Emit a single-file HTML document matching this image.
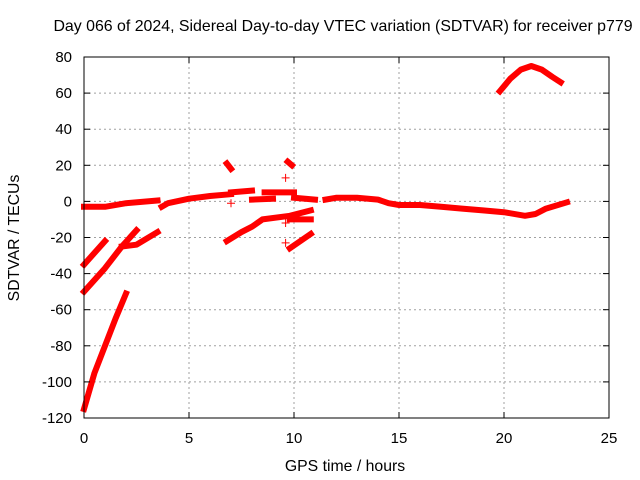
<!DOCTYPE html>
<html><head><meta charset="utf-8"><style>
body{margin:0;background:#fff}
svg{display:block;font-family:"Liberation Sans",sans-serif}
</style></head><body>
<svg id="chart" width="640" height="480">
<text x="343" y="31" font-size="15.9" text-anchor="middle">Day 066 of 2024, Sidereal Day-to-day VTEC variation (SDTVAR) for receiver p779</text>
<text x="345" y="471" font-size="15.8" text-anchor="middle">GPS time / hours</text>
<text transform="translate(19,238) rotate(-90)" font-size="15.8" text-anchor="middle">SDTVAR / TECUs</text>
<g id="grid"></g><g id="marks"></g><g id="axes"></g>
</svg>
<script>
const xTicks=[0,5,10,15,20,25];
const yTicks=[80,60,40,20,0,-20,-40,-60,-80,-100,-120];
const segMain1=[[0,-3],[1,-3],[2,-1],[3.5,0.5]];
const segMain2=[[3.7,-3],[4,-1],[5,1.5],[6,3],[7,4]];
const segBlock1=[[7,5],[8,6]];
const segBlock2=[[8,1],[9,1.5]];
const segBlock3=[[8.6,5],[10,5]];
const segMain3=[[10,2],[11,1]];
const segMain4=[[11.5,1],[12,2],[13,2],[14,1],[14.5,-1],[15,-2],[16,-2],[17,-3],[18,-4],[19,-5],[20,-6],[21,-8],[21.5,-7],[22,-4],[23,-0.5]];
const segArc=[[19.8,61],[20.3,68],[20.8,73],[21.3,75],[21.8,73],[22.3,69],[22.7,66]];
const segLow1=[[0,-35],[1,-22]];
const segLow2=[[0,-50],[1,-37],[1.8,-25],[2.5,-16]];
const segLow3=[[1.8,-25],[2.5,-24],[3.5,-17]];
const segLow4=[[0,-115],[0.5,-95],[1,-80],[1.5,-65],[2,-51]];
const segMid1=[[6.8,-22],[7.5,-17],[8,-14],[8.5,-10],[9.8,-8],[10.8,-5]];
const segMid2=[[9.8,-10],[10.8,-10]];
const segMid3=[[9.8,-26],[10.8,-18]];
const segSmall1=[[6.8,21],[7,18]];
const segSmall2=[[9.7,22],[9.9,20]];
const segments=[segMain1,segMain2,segBlock1,segBlock2,segBlock3,segMain3,segMain4,segArc,segLow1,segLow2,segLow3,segLow4,segMid1,segMid2,segMid3,segSmall1,segSmall2];
const plusX=[9.6,9.6,9.6,7];
const plusY=[13,-23,-12,-1];

const L=84,R=609,T=57,B=418;
const xs=v=>L+(v-0)/25*(R-L);
const ys=v=>B-(v+120)/200*(B-T);
const NS="http://www.w3.org/2000/svg";
const grid=document.getElementById('grid'),marks=document.getElementById('marks'),axes=document.getElementById('axes');
function mk(tag,at,parent){const e=document.createElementNS(NS,tag);for(const k in at)e.setAttribute(k,at[k]);parent.appendChild(e);return e;}
xTicks.forEach(t=>{
  const x=xs(t);
  if(t>0&&t<25){const g=mk('line',{x1:x,x2:x,y1:T,y2:B,stroke:'#a0a0a0','stroke-dasharray':'2,3'},grid);
  
  }
  mk('line',{x1:x,x2:x,y1:B,y2:B-6,stroke:'#000'},axes);
  mk('line',{x1:x,x2:x,y1:T,y2:T+6,stroke:'#000'},axes);
  const tx=mk('text',{x:x,y:B+25,'font-size':15,'text-anchor':'middle'},axes);tx.textContent=t;
  
  
});
yTicks.forEach(t=>{
  const y=ys(t);
  if(t>-120&&t<80){const g=mk('line',{x1:L,x2:R,y1:y,y2:y,stroke:'#a0a0a0','stroke-dasharray':'2,3'},grid);
  
  }
  mk('line',{x1:L,x2:L+6,y1:y,y2:y,stroke:'#000'},axes);
  mk('line',{x1:R,x2:R-6,y1:y,y2:y,stroke:'#000'},axes);
  const tx=mk('text',{x:L-12,y:y+5,'font-size':15,'text-anchor':'end'},axes);tx.textContent=t;
  
  
});
const fr=mk('rect',{x:L,y:T,width:R-L,height:B-T,fill:'none',stroke:'#000','stroke-width':1},axes);


segments.forEach(s=>{
  const d=s.map((p,i)=>(i?'L':'M')+xs(p[0]).toFixed(1)+','+ys(p[1]).toFixed(1)).join('');
  const p=mk('path',{d:d,fill:'none',stroke:'#f00','stroke-width':6,'stroke-linecap':'square','stroke-linejoin':'round'},marks);
  
  
});
plusX.forEach((v,i)=>{
  const x=xs(v),y=ys(plusY[i]);
  const p=mk('path',{d:`M${x-4},${y}H${x+4}M${x},${y-4}V${y+4}`,stroke:'#f00','stroke-width':1},marks);
  
  
});
</script>
</body></html>
